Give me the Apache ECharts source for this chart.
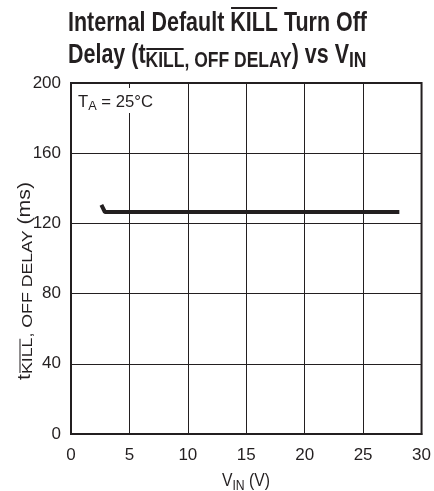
<!DOCTYPE html>
<html>
<head>
<meta charset="utf-8">
<script src="https://cdn.jsdelivr.net/npm/echarts@6/dist/echarts.min.js"></script>
<style>
  html, body { margin: 0; padding: 0; background: #fff; }
  #chart { width: 434px; height: 491px; }
</style>
</head>
<body>
<div id="chart"></div>
<script>
// data
const xTicks = [0, 5, 10, 15, 20, 25, 30];
const yTicks = [0, 40, 80, 120, 160, 200];
const vin = [2.6, 2.9, 28.1];
const delay = [130.5, 126.5, 126.5];

const FONT = '"Liberation Sans", Arial, sans-serif';
const ink = '#231f20';

// measure text so subscripts and overlines line up
const ctx = document.createElement('canvas').getContext('2d');
function metrics(text, font) {
  ctx.font = font;
  ctx.textBaseline = 'middle';
  const m = ctx.measureText(text);
  const h = ctx.measureText('H');
  return { w: m.width, down: h.actualBoundingBoxDescent, up: h.actualBoundingBoxAscent };
}

// parts: [text, size, dy, overline]; baseline sits at y = 0 of the group
function textRun(parts, bold, gap, ow) {
  let x = 0;
  const kids = [];
  parts.forEach(([t, size, dy, over]) => {
    const font = (bold ? 'bold ' : '') + size + 'px ' + FONT;
    const m = metrics(t, font);
    kids.push({
      type: 'text', x: x, y: dy - m.down, z: 5,
      style: { text: t, font: font, fill: ink, align: 'left', verticalAlign: 'middle' }
    });
    if (over) {
      const oy = dy - m.down - m.up - gap;
      kids.push({
        type: 'line', z: 5,
        shape: { x1: x + 1, y1: oy, x2: x + m.w - 1, y2: oy },
        style: { stroke: ink, lineWidth: ow }
      });
    }
    x += m.w;
  });
  return { width: x, kids: kids };
}

function place(run, x, y, sx, rot) {
  return { type: 'group', x: x, y: y, scaleX: sx, rotation: rot || 0, children: run.kids };
}

const title1 = textRun([
  ['Internal Default ', 27, 0], ['KILL', 27, 0, true], [' Turn Off', 27, 0]
], true, 4, 2);
const title2 = textRun([
  ['Delay (t', 27, 0], ['KILL', 22, 4, true], [', OFF DELAY', 22, 4], [') vs V', 27, 0], ['IN', 22, 4]
], true, 3, 2);
const tsx = 299 / title1.width;

const yName = textRun([
  ['t', 18, 0], ['KILL', 15, 2, true], [', OFF DELAY', 15, 2], [' (ms)', 18, 0]
], false, 2, 1);
const xName = textRun([['V', 18, 0], ['IN', 14, 4], [' (V)', 18, 0]], false, 2, 1);
const note = textRun([['T', 17, 0], ['A', 13, 3], [' = 25°C', 17, 0]], false, 2, 1);

const chart = echarts.init(document.getElementById('chart'));

const option = {
  animation: false,
  backgroundColor: '#fff',
  grid: {
    left: 71, top: 83, right: 11, bottom: 57,
    show: true, borderColor: ink, borderWidth: 2
  },
  xAxis: {
    type: 'value', min: 0, max: 30, interval: 5,
    axisLine: { show: true, onZero: false, lineStyle: { color: ink, width: 2 } },
    axisTick: { show: false },
    splitLine: { show: true, lineStyle: { color: ink, width: 1 } },
    axisLabel: { customValues: xTicks, fontFamily: FONT, fontSize: 17, color: ink, margin: 13 }
  },
  yAxis: {
    type: 'value', min: 0, max: 200, interval: 40,
    axisLine: { show: true, lineStyle: { color: ink, width: 2 } },
    axisTick: { show: false },
    splitLine: { show: true, lineStyle: { color: ink, width: 1 } },
    axisLabel: { customValues: yTicks, fontFamily: FONT, fontSize: 17, color: ink, margin: 10 }
  },
  graphic: [
    place(title1, 68, 31, tsx),
    place(title2, 68, 63, tsx),
    place(yName, 30, 380, 198 / yName.width, Math.PI / 2),
    place(xName, 222, 486, 48 / xName.width),
    { type: 'rect', shape: { x: 75, y: 88, width: 82, height: 25 }, style: { fill: '#fff' }, z: 1 },
    place(note, 78, 107, 75 / note.width)
  ],
  series: [{
    type: 'line',
    data: vin.map((v, i) => [v, delay[i]]),
    symbol: 'none',
    lineStyle: { color: ink, width: 4 },
    z: 10
  }]
};
chart.setOption(option);
</script>
</body>
</html>
